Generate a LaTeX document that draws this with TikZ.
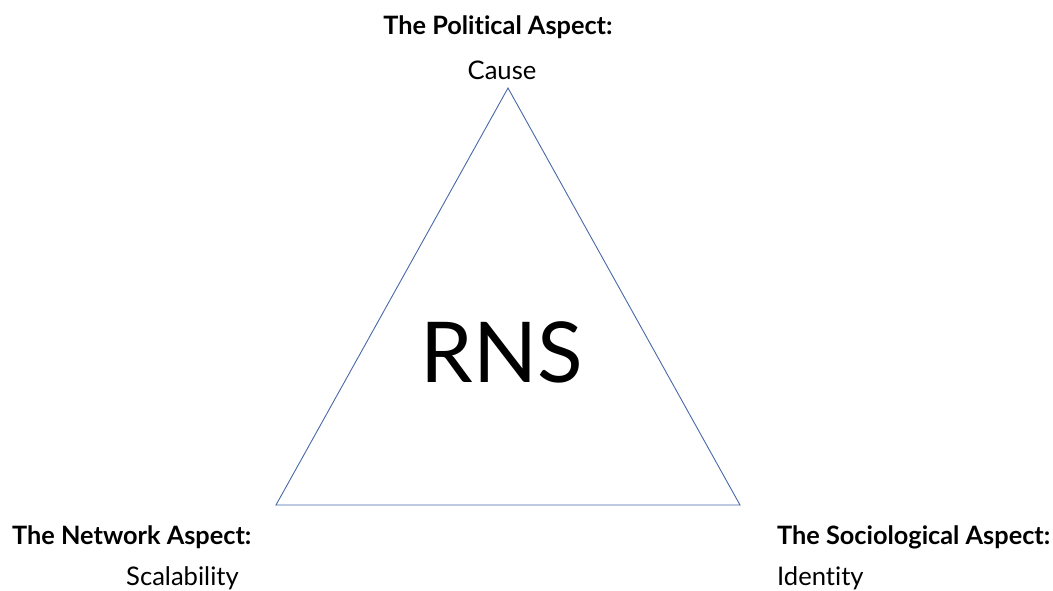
\documentclass[tikz,border=0pt]{standalone}
\usepackage{fontspec}
\setmainfont[Ligatures={NoCommon,NoRare}]{Lato}
\definecolor{edgeblue}{RGB}{72,104,168}
\begin{document}
\begin{tikzpicture}[x=1pt,y=-1pt,
  head/.style={inner sep=0pt,font=\fontsize{25.3}{28}\selectfont\bfseries},
  sub/.style={inner sep=0pt,font=\fontsize{25.6}{28}\selectfont},
  side/.style={draw=edgeblue,line width=0.9pt}]
\useasboundingbox (0,0) rectangle (1053,590);
% triangle corners
\coordinate (top) at (508,88);
\coordinate (left) at (276,505);
\coordinate (right) at (740,505);
\draw[side] (top) -- (left) -- (right) -- cycle;
\node[inner sep=0pt,font=\fontsize{84}{90}\selectfont] (core) at (502,352) {RNS};
% corner labels
\node[head] (pol) at (498,27) {The Political Aspect:};
\node[sub] (polsub) at (502,70) {Cause};
\node[head,anchor=west] (net) at (12,537) {The Network Aspect:};
\node[sub,anchor=west] (netsub) at (126,578) {Scalability};
\node[head,anchor=west] (soc) at (777,537) {The Sociological Aspect:};
\node[sub,anchor=west] (socsub) at (777,578) {Identity};
\end{tikzpicture}
\end{document}
